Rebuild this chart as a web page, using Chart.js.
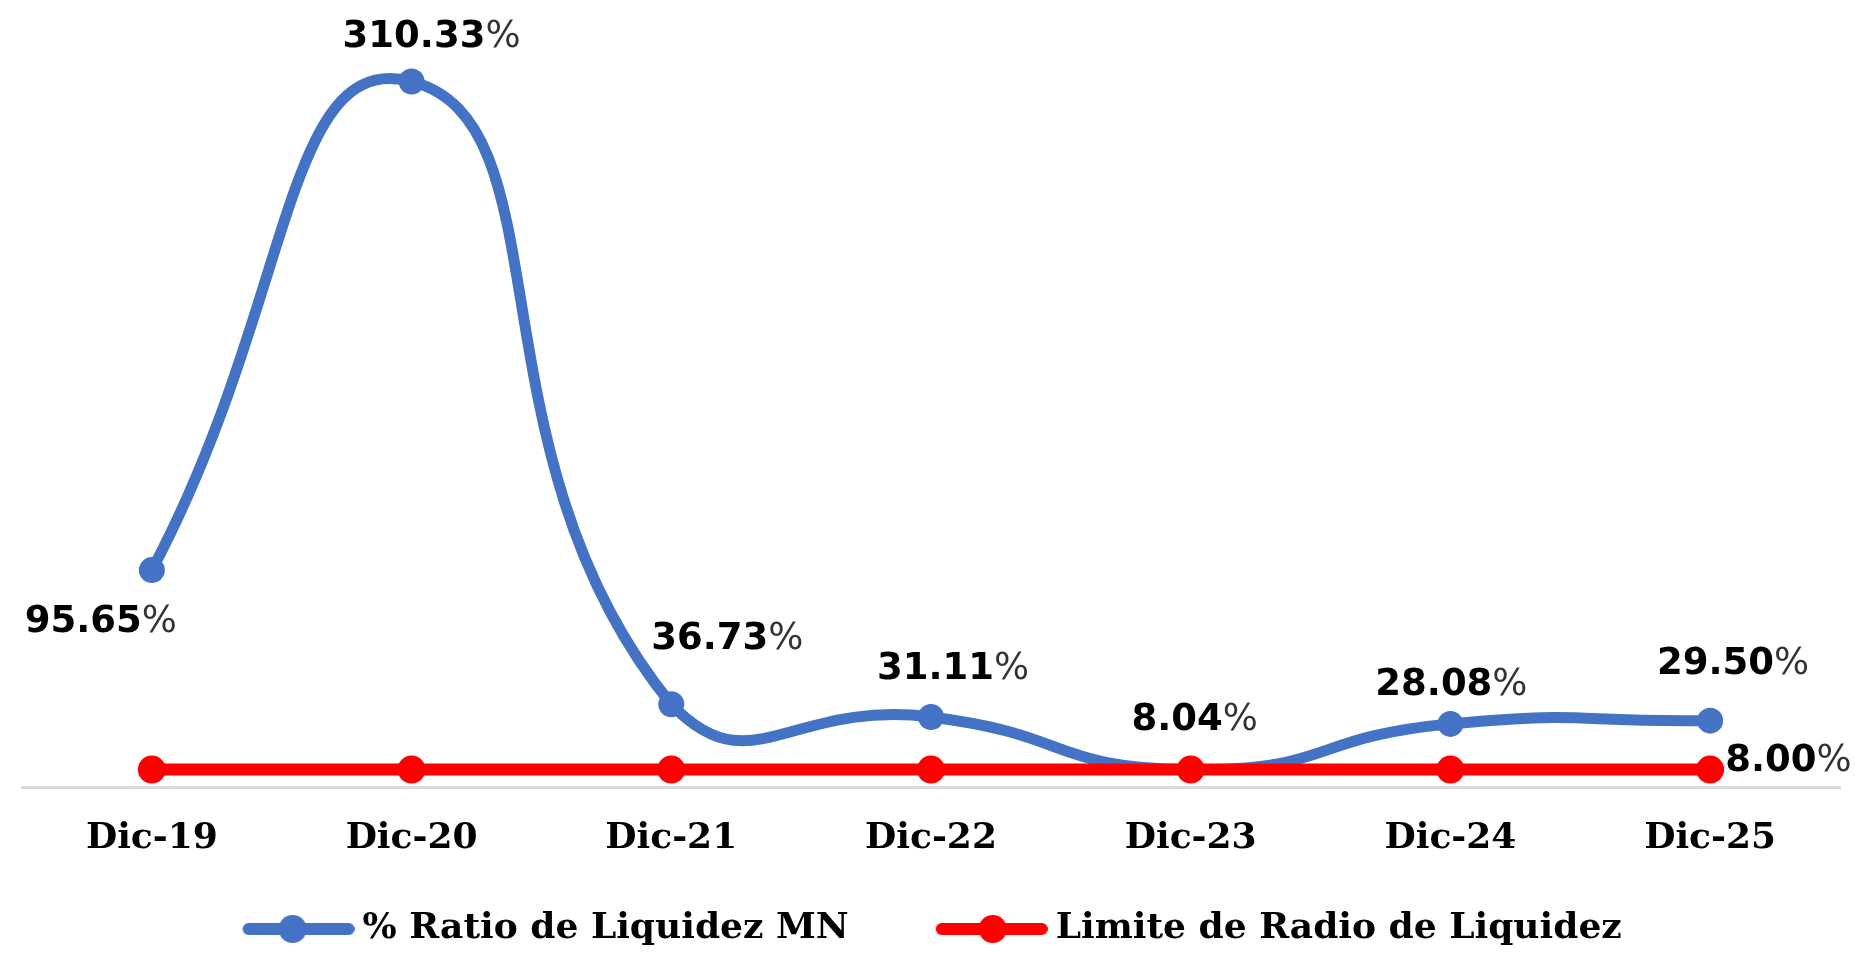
<!DOCTYPE html>
<html>
<head>
<meta charset="utf-8">
<script src="https://cdn.jsdelivr.net/npm/chart.js@4.4.1/dist/chart.umd.min.js"></script>
<style>
  html, body { margin: 0; padding: 0; background: #fff; }
  #wrap { width: 1864px; height: 953px; }
</style>
</head>
<body>
<div id="wrap"><canvas id="chart"></canvas></div>
<script>
const categories = ["Dic-19", "Dic-20", "Dic-21", "Dic-22", "Dic-23", "Dic-24", "Dic-25"];
const ratioMN = [95.65, 310.33, 36.73, 31.11, 8.04, 28.08, 29.50];
const limite = [8.00, 8.00, 8.00, 8.00, 8.00, 8.00, 8.00];
const seriesNames = ["% Ratio de Liquidez MN", "Limite de Radio de Liquidez"];

const BLUE = "#4472C4";
const RED = "#FF0000";

// label offsets from the point (center of text), null = no label
const labelOffsets = [
  [[-51, 52], [20, -44], [56, -65], [22, -48], [4, -49], [1, -39], [23, -56]],
  [null, null, null, null, null, null, [15, -8, "left"]]
];

// legend swatch: blank space on the left, then line with a dot
const SW_BLANK = 75;
const SW_LINE = 112;
function legendSwatch(color, markX) {
  const c = document.createElement("canvas");
  c.width = SW_BLANK + SW_LINE;
  c.height = 30;
  const g = c.getContext("2d");
  g.strokeStyle = color;
  g.lineWidth = 12;
  g.lineCap = "round";
  g.beginPath();
  g.moveTo(SW_BLANK + 6, 15);
  g.lineTo(SW_BLANK + SW_LINE - 6, 15);
  g.stroke();
  g.fillStyle = color;
  g.beginPath();
  g.arc(SW_BLANK + markX, 15, 14, 0, Math.PI * 2);
  g.fill();
  return c;
}
const swatches = [legendSwatch(BLUE, 50), legendSwatch(RED, 57)];

const valueLabels = {
  id: "valueLabels",
  afterDatasetsDraw(chart) {
    const ctx = chart.ctx;
    ctx.save();
    ctx.textBaseline = "middle";
    ctx.textAlign = "left";
    chart.data.datasets.forEach(function (ds, di) {
      const meta = chart.getDatasetMeta(di);
      meta.data.forEach(function (pt, i) {
        const off = labelOffsets[di][i];
        if (!off) return;
        const num = ds.data[i].toFixed(2);
        ctx.font = 'bold 37px "DejaVu Sans"';
        const wNum = ctx.measureText(num).width;
        ctx.font = '37px "DejaVu Sans"';
        const wPct = ctx.measureText("%").width;
        const y = pt.y + off[1];
        const left = off[2] === "left" ? pt.x + off[0] : pt.x + off[0] - (wNum + wPct) / 2;
        ctx.font = 'bold 37px "DejaVu Sans"';
        ctx.fillStyle = "#000";
        ctx.fillText(num, left, y);
        ctx.font = '37px "DejaVu Sans"';
        ctx.fillStyle = "#333";
        ctx.fillText("%", left + wNum, y);
      });
    });
    ctx.restore();
  }
};

const ctx = document.getElementById("chart").getContext("2d");
const myChart = new Chart(ctx, {
  type: "line",
  data: {
    labels: categories,
    datasets: [
      {
        label: seriesNames[0],
        data: ratioMN,
        borderColor: BLUE,
        backgroundColor: BLUE,
        pointBackgroundColor: BLUE,
        pointBorderColor: BLUE,
        borderWidth: 11,
        pointRadius: 13,
        pointBorderWidth: 0,
        tension: 0.55,
        order: 1
      },
      {
        label: seriesNames[1],
        data: limite,
        borderColor: RED,
        backgroundColor: RED,
        pointBackgroundColor: RED,
        pointBorderColor: RED,
        borderWidth: 12,
        pointRadius: 14,
        pointBorderWidth: 0,
        tension: 0,
        order: 0
      }
    ]
  },
  options: {
    responsive: true,
    maintainAspectRatio: false,
    animation: false,
    devicePixelRatio: 1,
    layout: {
      padding: { top: 7, left: 22, right: 24, bottom: -4 }
    },
    scales: {
      x: {
        offset: true,
        grid: { display: false, drawTicks: false },
        border: { display: true, color: "#d9d9d9", width: 3 },
        ticks: {
          color: "#000",
          padding: 29,
          font: { family: "DejaVu Serif", weight: "bold", size: 36 }
        }
      },
      y: {
        display: false,
        min: 0,
        max: 340
      }
    },
    plugins: {
      tooltip: { enabled: false },
      legend: {
        position: "bottom",
        labels: {
          usePointStyle: true,
          pointStyleWidth: SW_BLANK + SW_LINE - 20,
          padding: 22,
          color: "#000",
          font: { family: "DejaVu Serif", weight: "bold", size: 36 },
          sort: function (a, b) { return a.datasetIndex - b.datasetIndex; },
          generateLabels: function (chart) {
            const items = Chart.defaults.plugins.legend.labels.generateLabels(chart);
            items.forEach(function (it) {
              it.pointStyle = swatches[it.datasetIndex];
              // trailing no-break spaces shift the centred legend a bit to the left
              if (it.datasetIndex === 1) it.text = it.text + "\u00a0\u00a0\u00a0\u00a0\u00a0";
            });
            return items;
          }
        }
      }
    }
  },
  plugins: [valueLabels]
});
</script>
</body>
</html>
